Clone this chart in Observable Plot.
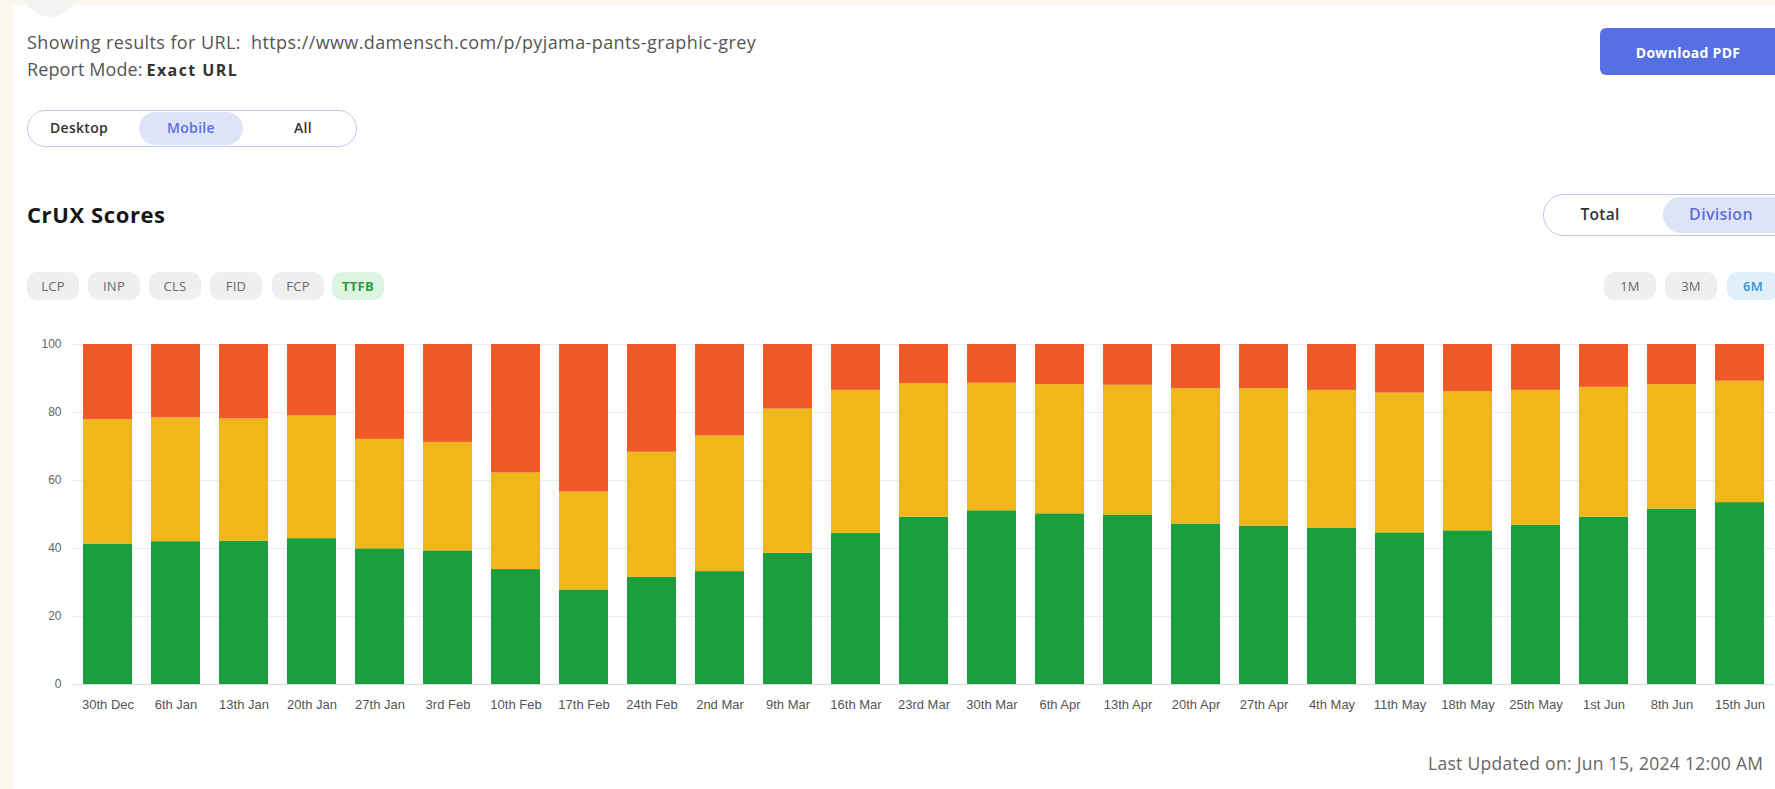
<!DOCTYPE html>
<html>
<head>
<meta charset="utf-8">
<script src="https://cdn.jsdelivr.net/npm/d3@7"></script>
<script src="https://cdn.jsdelivr.net/npm/@observablehq/plot@0.6"></script>
<style>
  html, body { margin: 0; padding: 0; }
  body {
    width: 1775px; height: 789px; overflow: hidden; position: relative;
    background: #fdf8ef; font-family: "Open Sans", sans-serif;
  }
  .panel { position: absolute; left: 13px; top: 5px; right: 0; bottom: 0; background: #fff; }
  .abs { position: absolute; white-space: nowrap; }
  .avatar { left: 23px; top: -37px; width: 54px; height: 54px; border-radius: 50%; background: #f3f3f3; }
  .line { left: 27px; font-size: 18px; letter-spacing: 0.4px; color: #555; line-height: 22px; }
  .line.mode { letter-spacing: 0.1px; }
  .line b { color: #333; font-size: 16px; font-weight: 700; letter-spacing: 1.4px; margin-left: 4px; }
  .toggle { border: 1.5px solid #bcc5f3; box-sizing: border-box; }
  .pill-on { background: #dfe3f8; }
  .seg { font-size: 14px; letter-spacing: 0.3px; font-weight: 600; color: #333; transform: translateX(-50%); line-height: 18px; }
  .seg.on { color: #5b6fe0; }
  .btn { left: 1600px; top: 28px; width: 190px; height: 47px; border-radius: 6px; background: #5670e4; }
  .btn span { position: absolute; left: 88px; top: 50%; transform: translate(-50%, -50%); color: #fff; font-size: 14px; letter-spacing: 0.3px; font-weight: 700; }
  .title { left: 27px; top: 199px; font-size: 22px; letter-spacing: 0.6px; font-weight: 700; color: #161616; line-height: 30px; }
  .chip { top: 272px; height: 28px; width: 52px; border-radius: 10px; background: #efefef; color: #6a6a6a;
          font-size: 13px; line-height: 28px; text-align: center; letter-spacing: 0.3px; }
  .chip.green { background: #def4e2; color: #25a03b; font-weight: 700; }
  .chip.blue { background: #dfeffb; color: #3b8fd6; font-weight: 600; }
  .updated { left: 1428px; top: 751px; font-size: 17.5px; letter-spacing: 0.3px; color: #666; line-height: 24px; }
  #chart { position: absolute; left: 0; top: 320px; }
</style>
</head>
<body>
<div class="panel"></div>
<div class="abs avatar"></div>

<div class="abs line" style="top:31px">Showing results for URL:&nbsp; https://www.damensch.com/p/pyjama-pants-graphic-grey</div>
<div class="abs line mode" style="top:58px">Report Mode:<b>Exact URL</b></div>

<div class="abs toggle" style="left:27px; top:110px; width:330px; height:37px; border-radius:19px;"></div>
<div class="abs pill-on" style="left:139px; top:112px; width:104px; height:33px; border-radius:17px;"></div>
<div class="abs seg" style="left:79px; top:119px;">Desktop</div>
<div class="abs seg on" style="left:191px; top:119px;">Mobile</div>
<div class="abs seg" style="left:303px; top:119px;">All</div>

<div class="abs btn"><span>Download PDF</span></div>

<div class="abs title">CrUX Scores</div>

<div class="abs toggle" style="left:1543px; top:194px; width:260px; height:42px; border-radius:21px;"></div>
<div class="abs pill-on" style="left:1663px; top:197px; width:140px; height:36px; border-radius:18px;"></div>
<div class="abs seg" style="left:1600px; top:205px; font-size:15.5px;">Total</div>
<div class="abs seg on" style="left:1721px; top:205px; font-size:16px;">Division</div>

<div id="chips"></div>

<div id="chart"></div>

<div class="abs updated">Last Updated on: Jun 15, 2024 12:00 AM</div>

<script>
// Weekly TTFB distribution (mobile), share of page loads per rating band
const weeks = [
  "30th Dec", "6th Jan", "13th Jan", "20th Jan", "27th Jan", "3rd Feb", "10th Feb",
  "17th Feb", "24th Feb", "2nd Mar", "9th Mar", "16th Mar", "23rd Mar", "30th Mar",
  "6th Apr", "13th Apr", "20th Apr", "27th Apr", "4th May", "11th May", "18th May",
  "25th May", "1st Jun", "8th Jun", "15th Jun"
];
const good = [
  41.3, 42.0, 42.1, 42.9, 39.9, 39.3, 33.8, 27.8, 31.5, 33.2, 38.6, 44.4, 49.2,
  51.1, 50.2, 49.7, 47.2, 46.6, 45.9, 44.6, 45.2, 46.8, 49.2, 51.6, 53.5
];
const needsImprovement = [
  36.6, 36.4, 36.0, 36.1, 32.2, 31.9, 28.4, 28.8, 36.8, 39.9, 42.4, 42.1, 39.3,
  37.5, 38.0, 38.3, 39.8, 40.4, 40.6, 41.1, 40.9, 39.7, 38.2, 36.6, 35.7
];
const poor = [
  22.1, 21.6, 21.9, 21.0, 27.9, 28.8, 37.8, 43.4, 31.7, 26.9, 19.0, 13.5, 11.5,
  11.4, 11.8, 12.0, 13.0, 13.0, 13.5, 14.3, 13.9, 13.5, 12.6, 11.8, 10.8
];
const bands = ["Good", "Needs Improvement", "Poor"];
const bandColors = ["#1b9e3c", "#efb719", "#f05a28"];
const yTicks = [0, 20, 40, 60, 80, 100];

const metricChips = ["LCP", "INP", "CLS", "FID", "FCP", "TTFB"];
const periodChips = ["1M", "3M", "6M"];

// Filter chips above the chart
const chipBox = document.getElementById("chips");
const metricLeft = [27, 88, 149, 210, 272, 332];
metricChips.forEach((m, i) => {
  const d = document.createElement("div");
  d.className = "abs chip" + (m === "TTFB" ? " green" : "");
  d.style.left = metricLeft[i] + "px";
  d.textContent = m;
  chipBox.appendChild(d);
});
const periodLeft = [1604, 1665, 1727];
periodChips.forEach((p, i) => {
  const d = document.createElement("div");
  d.className = "abs chip" + (p === "6M" ? " blue" : "");
  d.style.left = periodLeft[i] + "px";
  d.textContent = p;
  chipBox.appendChild(d);
});

// Long-format rows for the stacked bars
const series = [good, needsImprovement, poor];
const rows = [];
weeks.forEach((w, i) => {
  bands.forEach((b, j) => rows.push({week: w, band: b, value: series[j][i]}));
});

const chart = Plot.plot({
  width: 1775,
  height: 404,
  marginTop: 24,
  marginBottom: 40,
  marginLeft: 73,
  marginRight: 1,
  style: {fontFamily: "'Liberation Sans', Arial, sans-serif", fontSize: "12px", color: "#666", background: "transparent"},
  x: {domain: weeks, paddingInner: 0.277, paddingOuter: 0.1385, label: null},
  y: {domain: [0, 100], label: null},
  color: {domain: bands, range: bandColors},
  marks: [
    Plot.gridY(yTicks, {stroke: "#ececec", strokeOpacity: 1}),
    Plot.barY(rows, {x: "week", y: "value", fill: "band", order: bands}),
    Plot.ruleY([0], {stroke: "#dcdcdc"}),
    Plot.axisY(yTicks, {tickSize: 0, tickPadding: 12, fill: "#666", label: null}),
    Plot.axisX({tickSize: 0, tickPadding: 15, fill: "#555", fontSize: 13, label: null})
  ]
});
document.getElementById("chart").appendChild(chart);
</script>
</body>
</html>
